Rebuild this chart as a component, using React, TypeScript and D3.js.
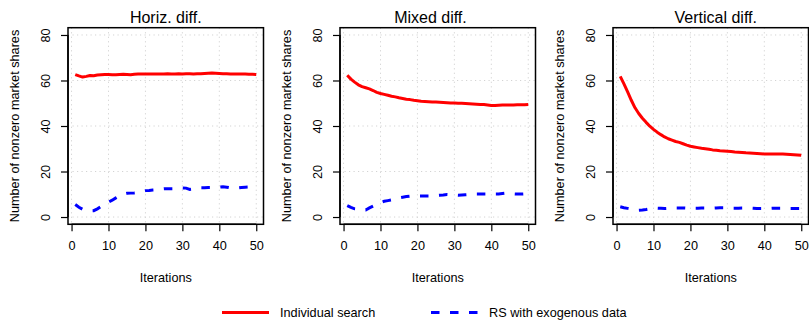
import React, { useEffect, useRef } from "react"
import * as d3 from "d3"

const WIDTH = 809
const HEIGHT = 320
const FONT = "'Liberation Sans', Arial, Helvetica, sans-serif"

const titles = ["Horiz. diff.", "Mixed diff.", "Vertical diff."]
const xTicks = [0, 10, 20, 30, 40, 50]
const yTicks = [0, 20, 40, 60, 80]
const iterations = d3.range(1, 51)

// Individual search
const searchHoriz = [
    62.6, 62.0, 61.5, 61.8, 62.2, 62.1, 62.4, 62.5, 62.6, 62.6,
    62.5, 62.5, 62.6, 62.7, 62.6, 62.5, 62.7, 62.8, 62.9, 62.9,
    62.8, 62.8, 62.9, 62.8, 62.9, 63.0, 62.9, 62.9, 63.0, 62.9,
    63.0, 63.0, 62.9, 63.0, 63.0, 63.1, 63.2, 63.3, 63.2, 63.1,
    63.0, 63.0, 62.9, 62.9, 62.8, 62.9, 62.8, 62.7, 62.7, 62.6,
]
const searchMixed = [
    62.3, 60.6, 59.3, 58.1, 57.3, 56.8, 56.3, 55.6, 54.8, 54.3,
    53.9, 53.5, 53.1, 52.8, 52.4, 52.1, 51.8, 51.6, 51.3, 51.1,
    50.9, 50.8, 50.7, 50.6, 50.5, 50.4, 50.3, 50.2, 50.1, 50.1,
    50.0, 50.0, 49.9, 49.8, 49.7, 49.6, 49.5, 49.4, 49.2, 49.0,
    49.0, 49.1, 49.2, 49.2, 49.2, 49.2, 49.3, 49.3, 49.3, 49.4,
]
const searchVert = [
    61.8, 58.5, 55.0, 51.3, 48.0, 45.5, 43.4, 41.6, 39.9, 38.5,
    37.3, 36.2, 35.2, 34.4, 33.8, 33.2, 32.8, 32.2, 31.6, 31.1,
    30.8, 30.5, 30.2, 30.0, 29.8, 29.5, 29.3, 29.1, 29.0, 28.9,
    28.8, 28.6, 28.5, 28.4, 28.2, 28.1, 28.0, 27.9, 27.8, 27.7,
    27.7, 27.7, 27.7, 27.7, 27.7, 27.6, 27.5, 27.4, 27.3, 27.1,
]

// RS with exogenous data
const rsHoriz = [
    5.5, 4.3, 3.4, 3.0, 2.7, 2.8, 3.6, 4.6, 5.4, 6.5,
    7.4, 8.4, 9.3, 10.0, 10.4, 10.5, 10.6, 10.8, 11.3, 11.6,
    11.7, 11.9, 12.0, 12.2, 12.4, 12.4, 12.4, 12.4, 12.5, 12.8,
    12.7, 12.1, 12.3, 12.7, 12.9, 12.9, 13.0, 13.0, 13.0, 13.1,
    13.3, 13.1, 12.8, 12.6, 12.8, 13.0, 13.1, 13.2, 13.2, 13.1,
]
const rsMixed = [
    5.0, 4.2, 3.6, 3.4, 3.2, 3.1, 4.0, 4.8, 5.5, 6.3,
    6.9, 7.2, 7.5, 7.9, 8.4, 8.7, 9.0, 9.2, 9.2, 9.2,
    9.2, 9.2, 9.2, 9.3, 9.5, 9.6, 9.7, 9.9, 9.8, 9.7,
    9.6, 9.7, 9.8, 9.9, 10.0, 10.1, 10.1, 10.1, 10.1, 10.1,
    10.1, 10.1, 10.3, 10.5, 10.4, 10.2, 10.1, 10.1, 10.2, 10.2,
]
const rsVert = [
    4.5, 4.1, 3.8, 3.5, 3.2, 3.0, 3.1, 3.3, 3.6, 3.9,
    3.9, 3.8, 3.7, 3.8, 3.9, 4.0, 4.0, 4.0, 3.9, 3.9,
    3.9, 3.9, 4.0, 4.0, 3.9, 3.9, 4.0, 4.1, 4.1, 4.0,
    3.9, 3.9, 3.9, 4.0, 4.0, 3.9, 3.8, 3.7, 3.7, 3.7,
    3.7, 3.8, 3.8, 3.8, 3.8, 3.8, 3.7, 3.7, 3.7, 3.7,
]

const searchSeries = [searchHoriz, searchMixed, searchVert]
const rsSeries = [rsHoriz, rsMixed, rsVert]

// plot box placement per panel
const boxLefts = [68, 340, 613]
const titleShift = [0, -7.3, 5]
const BOX_W = 195.5
const BOX_TOP = 27.7
const BOX_BOTTOM = 224.3

const App: React.FC = () => {
    const svgRef = useRef<SVGSVGElement | null>(null)

    useEffect(() => {
        if (!svgRef.current) return
        const svg = d3.select(svgRef.current)
        svg.selectAll("*").remove()

        // R style 4% range extension
        const xDomain = [1 - 0.04 * 49, 50 + 0.04 * 49]
        const yDomain = [-3.2, 83.2]

        titles.forEach((title, p) => {
            const left = boxLefts[p]
            const x = d3.scaleLinear().domain(xDomain).range([left, left + BOX_W])
            const y = d3.scaleLinear().domain(yDomain).range([BOX_BOTTOM, BOX_TOP])
            const g = svg.append("g")

            // grid
            g.selectAll("line.vg")
                .data(xTicks)
                .enter()
                .append("line")
                .attr("x1", d => x(d))
                .attr("x2", d => x(d))
                .attr("y1", BOX_TOP)
                .attr("y2", BOX_BOTTOM)
                .attr("stroke", "#d3d3d3")
                .attr("stroke-dasharray", "1.2,3.3")
            g.selectAll("line.hg")
                .data(yTicks)
                .enter()
                .append("line")
                .attr("x1", left)
                .attr("x2", left + BOX_W)
                .attr("y1", d => y(d))
                .attr("y2", d => y(d))
                .attr("stroke", "#d3d3d3")
                .attr("stroke-dasharray", "1.2,3.3")

            const line = d3
                .line<number>()
                .x((_, i) => x(iterations[i]))
                .y(d => y(d))

            g.append("path")
                .attr("d", line(searchSeries[p]))
                .attr("fill", "none")
                .attr("stroke", "#ff0000")
                .attr("stroke-width", 3)
                .attr("stroke-linejoin", "round")

            g.append("path")
                .attr("d", line(rsSeries[p]))
                .attr("fill", "none")
                .attr("stroke", "#0000ff")
                .attr("stroke-width", 3)
                .attr("stroke-dasharray", "8.5,10.5")

            // box
            g.append("rect")
                .attr("x", left)
                .attr("y", BOX_TOP)
                .attr("width", BOX_W)
                .attr("height", BOX_BOTTOM - BOX_TOP)
                .attr("fill", "none")
                .attr("stroke", "#000")
                .attr("stroke-width", 1.5)

            // axes
            const xAxis = d3.axisBottom(x).tickValues(xTicks).tickSize(7).tickSizeOuter(0).tickPadding(10)
            const xg = g.append("g").attr("transform", `translate(0,${BOX_BOTTOM})`).call(xAxis)
            xg.select(".domain").attr("d", `M${x(0)},0H${x(50)}`).attr("stroke-width", 1.5)
            xg.selectAll(".tick line").attr("stroke-width", 1.2)
            xg.selectAll("text")
                .attr("font-family", FONT)
                .attr("font-size", 12.7)
                .attr("fill", "#000")

            const yAxis = d3.axisLeft(y).tickValues(yTicks).tickSize(7).tickSizeOuter(0)
            const yg = g.append("g").attr("transform", `translate(${left},0)`).call(yAxis)
            yg.select(".domain").attr("d", `M0,${y(0)}V${y(80)}`).attr("stroke-width", 1.5)
            yg.selectAll(".tick line").attr("stroke-width", 1.2)
            yg.selectAll("text")
                .attr("x", null)
                .attr("dy", null)
                .attr("transform", "translate(-22.5,0) rotate(-90)")
                .attr("text-anchor", "middle")
                .attr("dominant-baseline", "central")
                .attr("font-family", FONT)
                .attr("font-size", 12.7)
                .attr("fill", "#000")

            const cx = left + BOX_W / 2
            g.append("text")
                .attr("x", cx + titleShift[p])
                .attr("y", 17)
                .attr("text-anchor", "middle")
                .attr("dominant-baseline", "central")
                .attr("font-family", FONT)
                .attr("font-size", 16)
                .text(title)

            g.append("text")
                .attr("x", cx)
                .attr("y", 278)
                .attr("text-anchor", "middle")
                .attr("dominant-baseline", "central")
                .attr("font-family", FONT)
                .attr("font-size", 12.7)
                .text("Iterations")

            g.append("text")
                .attr("transform", `translate(${left - 53},${(BOX_TOP + BOX_BOTTOM) / 2}) rotate(-90)`)
                .attr("text-anchor", "middle")
                .attr("dominant-baseline", "central")
                .attr("font-family", FONT)
                .attr("font-size", 12.7)
                .text("Number of nonzero market shares")
        })

        // legend
        const legend = svg.append("g").attr("transform", "translate(0,312.5)")
        legend.append("line")
            .attr("x1", 222).attr("x2", 269)
            .attr("stroke", "#ff0000").attr("stroke-width", 3)
        legend.append("text")
            .attr("x", 280).attr("dominant-baseline", "central")
            .attr("font-family", FONT).attr("font-size", 12.7)
            .text("Individual search")
        legend.append("line")
            .attr("x1", 431).attr("x2", 479)
            .attr("stroke", "#0000ff").attr("stroke-width", 3)
            .attr("stroke-dasharray", "8.5,10.5")
        legend.append("text")
            .attr("x", 489).attr("dominant-baseline", "central")
            .attr("font-family", FONT).attr("font-size", 12.7)
            .text("RS with exogenous data")
    }, [])

    return (
        <svg
            ref={svgRef}
            width={WIDTH}
            height={HEIGHT}
            style={{ position: "absolute", left: 0, top: 0, background: "#fff" }}
        />
    )
}

export default App
